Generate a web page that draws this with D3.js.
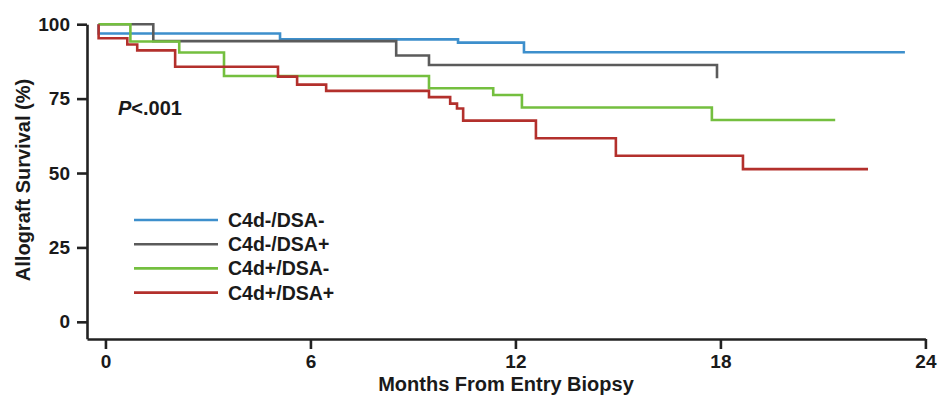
<!DOCTYPE html>
<html>
<head>
<meta charset="utf-8">
<script src="https://cdn.jsdelivr.net/npm/d3@7"></script>
<style>
  html, body { margin: 0; padding: 0; background: #fff; }
  svg { display: block; }
  text { font-family: "Liberation Sans", Arial, sans-serif; font-weight: bold; fill: #1a1a1a; }
</style>
</head>
<body>
<svg id="chart" width="938" height="397"></svg>
<script>
// Kaplan-Meier allograft survival by C4d / DSA status
const seriesNames = ["C4d-/DSA-", "C4d-/DSA+", "C4d+/DSA-", "C4d+/DSA+"];
const seriesColors = ["#3d8fcc", "#5b5b5b", "#74bf3f", "#b3302c"];

// step times (months) and survival (%) after each step
const blueTimes  = [-0.2, -0.2, 5.11, 10.32, 12.25, 23.40];
const blueValues = [100, 96.9, 94.9, 93.8, 90.6, 90.6];

const grayTimes  = [-0.2, 1.40, 8.51, 9.47, 17.90];
const grayValues = [100, 94.3, 89.5, 86.3, 81.8];

const greenTimes  = [-0.2, 0.73, 2.16, 3.47, 9.47, 11.35, 12.19, 17.75, 21.36];
const greenValues = [100, 94.2, 90.5, 82.6, 78.5, 76.2, 72.0, 67.8, 67.8];

const redTimes  = [-0.2, -0.2, 0.64, 0.93, 2.04, 5.05, 5.61, 6.46, 9.47, 10.09, 10.29, 10.47, 12.60, 14.94, 18.66, 22.32];
const redValues = [100, 95.3, 93.2, 91.2, 85.7, 82.4, 79.7, 77.6, 75.5, 73.3, 71.7, 67.6, 61.7, 55.8, 51.3, 51.3];

const xTicks = [0, 6, 12, 18, 24];
const yTicks = [0, 25, 50, 75, 100];

const xTitle = "Months From Entry Biopsy";
const yTitle = "Allograft Survival (%)";
const pText = "<.001";

const svg = d3.select("#chart");

const x = d3.scaleLinear().domain([-0.54, 24]).range([87, 925.4]);
const y = d3.scaleLinear().domain([-5.7, 100]).range([338.8, 24.2]);

const series = [
  { t: blueTimes, v: blueValues },
  { t: grayTimes, v: grayValues },
  { t: greenTimes, v: greenValues },
  { t: redTimes, v: redValues }
];

// axes
const yAxis = d3.axisLeft(y).tickValues(yTicks).tickSize(10).tickSizeOuter(0).tickPadding(7);
const xAxis = d3.axisBottom(x).tickValues(xTicks).tickSize(10).tickSizeOuter(0).tickPadding(6);

const gy = svg.append("g").attr("transform", "translate(87,0)").call(yAxis);
const gx = svg.append("g").attr("transform", "translate(0,339)").call(xAxis);

[gx, gy].forEach(g => {
  g.select(".domain").attr("stroke", "#222").attr("stroke-width", 2.6);
  g.selectAll(".tick line").attr("stroke", "#222").attr("stroke-width", 2.6);
  g.selectAll(".tick text")
    .style("font-family", "'Liberation Sans', Arial, sans-serif")
    .style("font-weight", "bold")
    .style("font-size", "19px")
    .attr("fill", "#1a1a1a");
});

// survival curves
const line = d3.line()
  .x(d => x(d[0]))
  .y(d => y(d[1]))
  .curve(d3.curveStepAfter);

series.forEach((s, i) => {
  const pts = s.t.map((t, j) => [t, s.v[j]]);
  svg.append("path")
    .datum(pts)
    .attr("d", line)
    .attr("fill", "none")
    .attr("stroke", seriesColors[i])
    .attr("stroke-width", 2.6)
    .attr("stroke-linejoin", "miter");
});

// p-value annotation
const pLabel = svg.append("text")
  .attr("x", 118).attr("y", 115)
  .style("font-size", "20px");
pLabel.append("tspan").style("font-style", "italic").text("P");
pLabel.append("tspan").text(pText);

// legend
const legend = svg.append("g");
seriesNames.forEach((name, i) => {
  const cy = 220 + i * 24.2;
  legend.append("line")
    .attr("x1", 134).attr("x2", 218)
    .attr("y1", cy).attr("y2", cy)
    .attr("stroke", seriesColors[i])
    .attr("stroke-width", 2.6);
  legend.append("text")
    .attr("x", 228).attr("y", cy + 7)
    .style("font-size", "19.5px")
    .text(name);
});

// axis titles
svg.append("text")
  .attr("x", 506).attr("y", 391)
  .attr("text-anchor", "middle")
  .style("font-size", "20px")
  .text(xTitle);

svg.append("text")
  .attr("transform", "translate(30,180) rotate(-90)")
  .attr("text-anchor", "middle")
  .style("font-size", "20px")
  .text(yTitle);
</script>
</body>
</html>
